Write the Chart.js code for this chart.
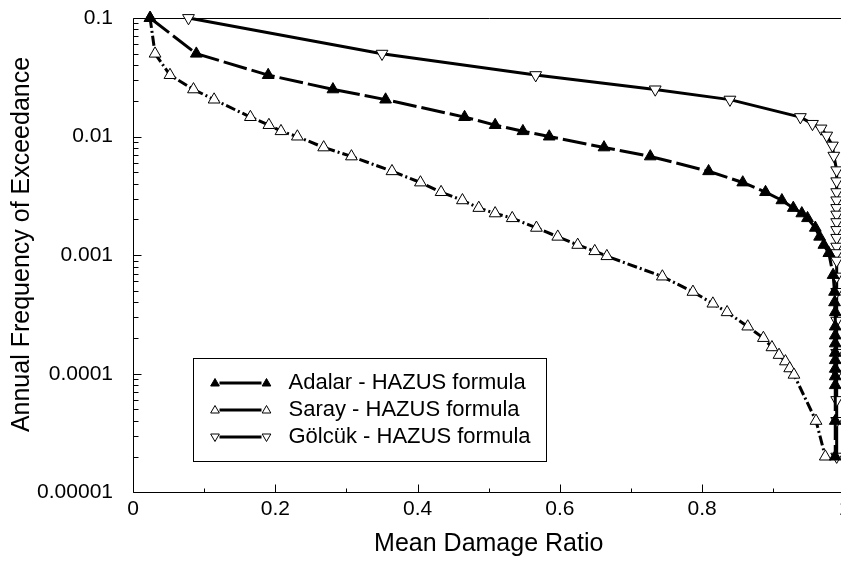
<!DOCTYPE html>
<html><head><meta charset="utf-8">
<script src="https://cdn.jsdelivr.net/npm/chart.js@4/dist/chart.umd.min.js"></script>
<style>html,body{margin:0;padding:0;overflow:hidden;background:#fff}canvas{display:block}</style>
</head><body>
<canvas id="c" width="870" height="562"></canvas>
<script>
const seriesNames = ['Adalar - HAZUS formula', 'Saray - HAZUS formula', 'Gölcük - HAZUS formula'];
const xTitle = 'Mean Damage Ratio';
const yTitle = 'Annual Frequency of Exceedance';
const xTickLabels = ['0', '0.2', '0.4', '0.6', '0.8', '1'];
const yTickLabels = ['0.1', '0.01', '0.001', '0.0001', '0.00001'];

const adalarX = [0.024, 0.089, 0.190, 0.281, 0.355, 0.466, 0.509, 0.548, 0.585, 0.662, 0.727, 0.809, 0.857, 0.889, 0.912, 0.928, 0.940, 0.948, 0.959, 0.965, 0.971, 0.978, 0.984, 0.986, 0.986, 0.987, 0.987, 0.987, 0.987, 0.987, 0.987, 0.987, 0.987, 0.987, 0.987, 0.987];
const adalarY = [0.1, 0.050, 0.033, 0.025, 0.0205, 0.0146, 0.0125, 0.0111, 0.0100, 0.0081, 0.0068, 0.0051, 0.0041, 0.0034, 0.0029, 0.0025, 0.00225, 0.00205, 0.0017, 0.00143, 0.00122, 0.00104, 0.00068, 0.00049, 0.00040, 0.00033, 0.00025, 0.00021, 0.00018, 0.00015, 0.00013, 0.00011, 0.000095, 0.00008, 0.00004, 0.00002];

const sarayX = [0.024, 0.031, 0.052, 0.085, 0.114, 0.165, 0.191, 0.208, 0.231, 0.268, 0.307, 0.364, 0.404, 0.433, 0.463, 0.486, 0.509, 0.533, 0.567, 0.597, 0.625, 0.649, 0.666, 0.744, 0.787, 0.815, 0.835, 0.864, 0.886, 0.898, 0.908, 0.917, 0.923, 0.929, 0.960, 0.973];
const sarayY = [0.1, 0.050, 0.033, 0.025, 0.0205, 0.0146, 0.0125, 0.0111, 0.0100, 0.0081, 0.0068, 0.0051, 0.0041, 0.0034, 0.0029, 0.0025, 0.00225, 0.00205, 0.0017, 0.00143, 0.00122, 0.00108, 0.00098, 0.00066, 0.00049, 0.00039, 0.00033, 0.00025, 0.00020, 0.000167, 0.000144, 0.000127, 0.000111, 0.000098, 0.00004, 0.00002];

const golcukX = [0.078, 0.350, 0.566, 0.734, 0.839, 0.938, 0.955, 0.967, 0.975, 0.983, 0.985, 0.989, 0.989, 0.989, 0.989, 0.989, 0.989, 0.989, 0.989, 0.989, 0.989, 0.989, 0.989, 0.989, 0.989, 0.989, 0.989, 0.989, 0.989, 0.989, 0.989];
const golcukY = [0.1, 0.050, 0.033, 0.025, 0.0205, 0.0146, 0.0128, 0.0117, 0.0102, 0.0084, 0.0069, 0.0052, 0.0042, 0.0034, 0.0029, 0.0025, 0.0022, 0.0019, 0.00163, 0.0014, 0.00118, 0.00104, 0.0009, 0.00066, 0.00049, 0.00028, 0.00015, 0.0001, 0.00006, 0.00004, 0.00002];

const FONT = "'Liberation Sans', Arial, Helvetica, sans-serif";
const pts = (xs, ys) => xs.map((x, i) => ({ x: x, y: ys[i] }));

function tri(ctx, cx, cy, r, down, fill) {
  ctx.beginPath();
  const s = down ? -1 : 1;
  ctx.moveTo(cx, cy - s * r);
  ctx.lineTo(cx + r * Math.sqrt(3) / 2, cy + s * r / 2);
  ctx.lineTo(cx - r * Math.sqrt(3) / 2, cy + s * r / 2);
  ctx.closePath();
  ctx.fillStyle = fill ? '#000' : '#fff';
  ctx.fill();
  ctx.lineWidth = 1;
  ctx.strokeStyle = '#000';
  ctx.stroke();
}

const framePlugin = {
  id: 'frame',
  beforeDatasetsDraw(chart) {
    const { ctx, chartArea: a, scales } = chart;
    const x = scales.x, y = scales.y;
    ctx.save();
    ctx.strokeStyle = '#000';
    ctx.lineWidth = 1;
    ctx.beginPath();
    const L = Math.round(a.left) + 0.5, T = Math.round(a.top) + 0.5, B = Math.round(a.bottom) + 0.5, R = Math.round(a.right) + 0.5;
    ctx.moveTo(L, B); ctx.lineTo(L, T); ctx.lineTo(R, T); ctx.lineTo(R, B); ctx.lineTo(L, B);
    for (let e = -5; e <= -1; e++) {
      for (let m = 1; m <= 9; m++) {
        const v = m * Math.pow(10, e);
        if (v > 0.1 * 1.0001) continue;
        const py = Math.round(y.getPixelForValue(v)) + 0.5;
        const len = m === 1 ? 8 : 5;
        ctx.moveTo(L, py); ctx.lineTo(L + len, py);
      }
    }
    for (let i = 0; i <= 10; i++) {
      const px = Math.round(x.getPixelForValue(i / 10)) + 0.5;
      const len = i % 2 === 0 ? 8 : 4;
      ctx.moveTo(px, B); ctx.lineTo(px, B - len);
    }
    ctx.stroke();
    ctx.restore();
  },
  afterDraw(chart) {
    const { ctx, chartArea: a } = chart;
    ctx.save();
    ctx.translate(22.5, 244.5);
    ctx.rotate(-Math.PI / 2);
    ctx.fillStyle = '#000';
    ctx.font = '25px ' + FONT;
    ctx.textAlign = 'center';
    ctx.textBaseline = 'middle';
    ctx.fillText(yTitle, 0, 0);
    ctx.restore();

    ctx.save();
    const bx = a.left + 60.5, by = 358.5, bw = 353, bh = 103;
    ctx.fillStyle = '#fff';
    ctx.fillRect(bx, by, bw, bh);
    ctx.strokeStyle = '#000';
    ctx.lineWidth = 1;
    ctx.strokeRect(bx, by, bw, bh);
    const rows = [24.5, 51.5, 78.5];
    const styles = [{ fill: true, down: false }, { fill: false, down: false }, { fill: false, down: true }];
    chart.data.datasets.forEach((ds, i) => {
      const ry = by + rows[i];
      ctx.beginPath();
      ctx.strokeStyle = '#000';
      ctx.lineWidth = 3;
      ctx.moveTo(bx + 26, ry); ctx.lineTo(bx + 68, ry);
      ctx.stroke();
      tri(ctx, bx + 21.5, ry + (styles[i].down ? -0.5 : 0.5), 5, styles[i].down, styles[i].fill);
      tri(ctx, bx + 73, ry + (styles[i].down ? -0.5 : 0.5), 5, styles[i].down, styles[i].fill);
      ctx.fillStyle = '#000';
      ctx.font = '22px ' + FONT;
      ctx.textAlign = 'left';
      ctx.textBaseline = 'middle';
      ctx.fillText(ds.label, bx + 95, ry);
    });
    ctx.restore();
  }
};

const common = {
  showLine: true,
  borderColor: '#000',
  borderWidth: 3,
  pointStyle: 'triangle',
  pointRadius: 6.8,
  pointBorderColor: '#000',
  pointBorderWidth: 1,
  tension: 0,
  clip: false
};

function noPad(s) { s.paddingTop = 0; s.paddingBottom = 0; s.paddingLeft = 0; s.paddingRight = 0; }

new Chart(document.getElementById('c').getContext('2d'), {
  type: 'scatter',
  data: {
    datasets: [
      Object.assign({}, common, { label: seriesNames[0], data: pts(adalarX, adalarY), borderDash: [24, 5], pointBackgroundColor: '#000' }),
      Object.assign({}, common, { label: seriesNames[1], data: pts(sarayX, sarayY), borderDash: [10, 3, 2, 3], pointBackgroundColor: '#fff' }),
      Object.assign({}, common, { label: seriesNames[2], data: pts(golcukX, golcukY), borderDash: [], pointBackgroundColor: '#fff', pointRotation: 180 })
    ]
  },
  options: {
    responsive: false,
    animation: false,
    devicePixelRatio: 1,
    layout: { padding: { left: 0, top: 18, right: 25.5, bottom: 0 } },
    plugins: { legend: { display: false }, tooltip: { enabled: false } },
    scales: {
      x: {
        type: 'linear', min: 0, max: 1,
        afterFit(s) { s.height = 69.7; noPad(s); },
        grid: { display: false, drawTicks: false },
        border: { display: false },
        ticks: {
          stepSize: 0.2, padding: 4, color: '#000', maxRotation: 0, autoSkip: false,
          font: { family: FONT, size: 21 },
          callback: (v) => { const k = Math.round(v * 5); return Math.abs(v * 5 - k) < 1e-6 ? xTickLabels[k] : null; }
        },
        title: { display: true, text: xTitle, color: '#000', font: { family: FONT, size: 25 }, padding: { top: 3, bottom: 3 } }
      },
      y: {
        type: 'logarithmic', min: 1e-5, max: 0.1,
        afterFit(s) { s.width = 133; noPad(s); },
        grid: { display: false, drawTicks: false },
        border: { display: false },
        ticks: {
          padding: 20, color: '#000', autoSkip: false,
          font: { family: FONT, size: 21 },
          callback: (v) => { const e = Math.log10(v); const k = Math.round(e); return Math.abs(e - k) < 1e-6 ? yTickLabels[-1 - k] : null; }
        }
      }
    }
  },
  plugins: [framePlugin]
});
</script>
</body></html>
